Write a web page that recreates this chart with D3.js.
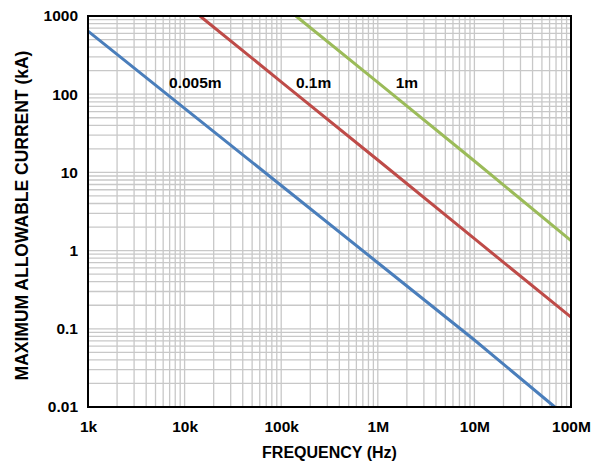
<!DOCTYPE html>
<html lang="en">
<head>
    <meta charset="UTF-8">
    <title>Maximum allowable current</title>
    <style type="text/css">
        body {
            margin: 0;
            background: #fff;
        }
        svg {
            display: block;
            font-family: "Liberation Sans", Arial, sans-serif;
            font-weight: bold;
        }
        .tick-label, .series-label {
            fill: #000;
            font-size: 15.5px;
        }
        .axis-title {
            fill: #000;
            font-size: 16px;
        }
        .axis-title.y-title {
            font-size: 17.5px;
        }
    </style>
</head>
<body>
    <div id="chart"></div>
    <script src="https://cdnjs.cloudflare.com/ajax/libs/d3/7.8.5/d3.min.js"></script>
    <script type="text/javascript">
        // axis ticks
        var xTicks = [1e3, 1e4, 1e5, 1e6, 1e7, 1e8];
        var xTickLabels = ["1k", "10k", "100k", "1M", "10M", "100M"];
        var yTicks = [0.01, 0.1, 1, 10, 100, 1000];
        var yTickLabels = ["0.01", "0.1", "1", "10", "100", "1000"];

        // series: frequency (Hz) vs. max current (kA)
        var seriesNames = ["0.005m", "0.1m", "1m"];
        var seriesColors = ["#4a7ebb", "#be4b48", "#9bbb59"];
        var freq005 = [1e3, 1e4, 1e5, 1e6, 1e7, 6.8e7];
        var curr005 = [640, 66, 6.8, 0.70, 0.072, 0.01];
        var freq01 = [1.44e4, 1e5, 1e6, 1e7, 1e8];
        var curr01 = [1000, 144, 14.4, 1.42, 0.141];
        var freq1 = [1.42e5, 1e6, 1e7, 1e8];
        var curr1 = [1000, 142, 14, 1.34];

        // where each series name sits (frequency, current)
        var labelFreq = [6.9e3, 1.42e5, 1.53e6];
        var labelCurr = [120, 120, 120];

        var width = 598, height = 463;
        var margin = { top: 16, right: 27, bottom: 56, left: 88 };

        var svg = d3.select("#chart").append("svg")
            .attr("width", width)
            .attr("height", height);

        var x = d3.scaleLog()
            .domain([1e3, 1e8])
            .range([margin.left, width - margin.right]);
        var y = d3.scaleLog()
            .domain([0.01, 1000])
            .range([height - margin.bottom, margin.top]);

        // minor + major grid lines (1..9 per decade)
        function logGrid(domain) {
            var out = [];
            for (var e = Math.log10(domain[0]); e < Math.log10(domain[1]); e++) {
                for (var m = 1; m < 10; m++) out.push(m * Math.pow(10, e));
            }
            out.push(domain[1]);
            return out;
        }

        var grid = svg.append("g").attr("class", "grid")
            .attr("stroke", "#c8c8c8")
            .attr("stroke-width", 1.3);

        grid.selectAll(".vx")
            .data(logGrid(x.domain()))
            .enter().append("line")
            .attr("x1", d => x(d)).attr("x2", d => x(d))
            .attr("y1", y.range()[0]).attr("y2", y.range()[1]);

        grid.selectAll(".hy")
            .data(logGrid(y.domain()))
            .enter().append("line")
            .attr("y1", d => y(d)).attr("y2", d => y(d))
            .attr("x1", x.range()[0]).attr("x2", x.range()[1]);

        // series lines
        var series = [
            { name: seriesNames[0], color: seriesColors[0], f: freq005, c: curr005 },
            { name: seriesNames[1], color: seriesColors[1], f: freq01, c: curr01 },
            { name: seriesNames[2], color: seriesColors[2], f: freq1, c: curr1 }
        ];

        var line = d3.line()
            .x(d => x(d[0]))
            .y(d => y(d[1]));

        svg.append("g").selectAll("path")
            .data(series)
            .enter().append("path")
            .attr("fill", "none")
            .attr("stroke", d => d.color)
            .attr("stroke-width", 3)
            .attr("d", d => line(d.f.map((v, i) => [v, d.c[i]])));

        // frame
        svg.append("rect")
            .attr("x", x.range()[0])
            .attr("y", y.range()[1])
            .attr("width", x.range()[1] - x.range()[0])
            .attr("height", y.range()[0] - y.range()[1])
            .attr("fill", "none")
            .attr("stroke", "#000")
            .attr("stroke-width", 2);

        // series names
        svg.append("g").selectAll("text")
            .data(seriesNames)
            .enter().append("text")
            .attr("class", "series-label")
            .attr("x", (d, i) => x(labelFreq[i]))
            .attr("y", (d, i) => y(labelCurr[i]))
            .text(d => d);

        // axes, drawn with d3.axis and then stripped to labels only
        var xAxis = svg.append("g")
            .attr("transform", "translate(0," + (height - margin.bottom) + ")")
            .call(d3.axisBottom(x)
                .tickValues(xTicks)
                .tickFormat((d, i) => xTickLabels[i])
                .tickSize(0)
                .tickPadding(14));
        var yAxis = svg.append("g")
            .attr("transform", "translate(" + margin.left + ",0)")
            .call(d3.axisLeft(y)
                .tickValues(yTicks)
                .tickFormat((d, i) => yTickLabels[i])
                .tickSize(0)
                .tickPadding(10));

        [xAxis, yAxis].forEach(function (g) {
            g.select(".domain").remove();
            g.selectAll("text")
                .attr("class", "tick-label")
                .attr("fill", "#000");
            g.attr("font-family", null).attr("font-size", null);
        });

        // axis titles
        svg.append("text")
            .attr("class", "axis-title")
            .attr("x", (x.range()[0] + x.range()[1]) / 2)
            .attr("y", height - 5)
            .attr("text-anchor", "middle")
            .text("FREQUENCY (Hz)");

        svg.append("text")
            .attr("class", "axis-title y-title")
            .attr("transform", "translate(28," + ((y.range()[0] + y.range()[1]) / 2 + 4) + ") rotate(-90)")
            .attr("text-anchor", "middle")
            .text("MAXIMUM ALLOWABLE CURRENT (kA)");
    </script>
</body>
</html>
